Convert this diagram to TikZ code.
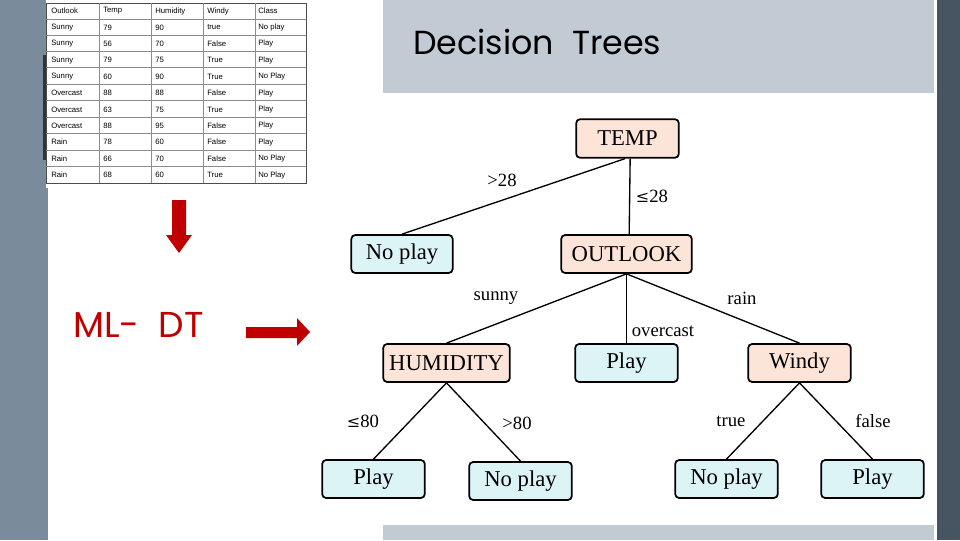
\documentclass[tikz,border=0pt]{standalone}
\usepackage{fontspec}
\setmainfont{Liberation Serif}
\newfontfamily\ttl{Poppins}
\newfontfamily\tbl{Liberation Sans}
\newfontfamily\sym{DejaVu Serif}
\definecolor{slate}{HTML}{7A8B9B}
\definecolor{darkstrip}{HTML}{475462}
\definecolor{panel}{HTML}{C2CAD3}
\definecolor{peach}{HTML}{FCE5D8}
\definecolor{cyanb}{HTML}{DDF4F7}
\definecolor{dred}{HTML}{C00000}
\begin{document}
\begin{tikzpicture}[x=0.75pt,y=-0.75pt,
  tn/.style={draw=black,line width=1.3pt,rounded corners=3pt,inner sep=0pt,font=\fontsize{17}{17}\selectfont},
  dec/.style={tn,fill=peach},
  leaf/.style={tn,fill=cyanb},
  lbl/.style={font=\fontsize{14}{14}\selectfont,inner sep=0pt},
  edge/.style={line width=1pt},
  cell/.style={font=\tbl\fontsize{5.8}{6}\selectfont,anchor=west,inner sep=0pt}]
\useasboundingbox (0,0) rectangle (960,540);
\fill[white] (0,0) rectangle (960,540);
\fill[slate] (0,0) rectangle (48,540);
\fill[darkstrip] (937,0) rectangle (960,540);
\fill[panel] (383,0) rectangle (934,93);
\fill[panel] (383,525) rectangle (934,540);
\node[font=\ttl\fontsize{25}{25}\selectfont,anchor=west,inner sep=0pt] (title) at (413,42) {Decision\ \ Trees};
% table
\fill[black!80] (43,55) rectangle (46,160);
\fill[white] (46,0) rectangle (310,188);
\draw[black!70,line width=0.7pt] (46,3) rectangle (306,183);
\foreach \y in {19,35,51,67,84,100,117,133,150,166}{\draw[black!45,line width=0.4pt] (46,\y) -- (306,\y);}
\foreach \x in {99,151,203,255}{\draw[black!45,line width=0.4pt] (\x,3) -- (\x,183);}
\foreach \r/\a/\b/\c/\d [count=\i from 0] in {Outlook/Temp/Humidity/Windy/Class,Sunny/79/90/true/No play,Sunny/56/70/False/Play,Sunny/79/75/True/Play,Sunny/60/90/True/No Play,Overcast/88/88/False/Play,Overcast/63/75/True/Play,Overcast/88/95/False/Play,Rain/78/60/False/Play,Rain/66/70/False/No Play,Rain/68/60/True/No Play}{
  \pgfmathsetmacro\yy{11+16.4*\i}
  \node[cell] (t\i a) at (51,\yy) {\r};
  \node[cell] (t\i b) at (103,\yy) {\a};
  \node[cell] (t\i c) at (155,\yy) {\b};
  \node[cell] (t\i d) at (207,\yy) {\c};
  \node[cell] (t\i e) at (258,\yy) {\d};
}
% arrows
\fill[dred] (172,200) -- (186,200) -- (186,235) -- (192,235) -- (179,253) -- (166,235) -- (172,235) -- cycle;
\fill[dred] (246,327) -- (297,327) -- (297,318) -- (310,332) -- (297,346) -- (297,338) -- (246,338) -- cycle;
\node[font=\ttl\fontsize{27}{27}\selectfont,text=dred,anchor=west,inner sep=0pt] (ml) at (73,325) {ML-\ \ DT};
% tree
\node[dec,minimum width=77pt,minimum height=29pt] (temp) at (627.5,138.5) {TEMP};
\node[leaf,minimum width=76pt,minimum height=28.5pt] (np1) at (402,254) {No play};
\node[dec,minimum width=98pt,minimum height=28.5pt] (out) at (626.5,254) {OUTLOOK};
\node[dec,minimum width=95pt,minimum height=28.5pt] (hum) at (446.5,363) {HUMIDITY};
\node[leaf,minimum width=77pt,minimum height=28.5pt] (pl1) at (626.5,363) {Play};
\node[dec,minimum width=77pt,minimum height=28.5pt] (win) at (799.5,363) {Windy};
\node[leaf,minimum width=77pt,minimum height=28.5pt] (pl2) at (373.5,479) {Play};
\node[leaf,minimum width=77pt,minimum height=28.5pt] (np2) at (520.5,481) {No play};
\node[leaf,minimum width=77pt,minimum height=28.5pt] (np3) at (726.5,479) {No play};
\node[leaf,minimum width=77pt,minimum height=28.5pt] (pl3) at (872.5,479) {Play};
\draw[edge] ([xshift=-2pt]temp.south) -- (np1.north);
\draw[edge] ([xshift=2pt]temp.south) -- ([xshift=2pt]out.north);
\draw[edge] (out.south) -- (hum.north);
\draw[edge] (out.south) -- (pl1.north);
\draw[edge] (out.south) -- (win.north);
\draw[edge] (hum.south) -- (pl2.north);
\draw[edge] (hum.south) -- (np2.north);
\draw[edge] (win.south) -- (np3.north);
\draw[edge] (win.south) -- (pl3.north);
\node[lbl] (l1) at (502,180) {>28};
\node[lbl] (l2) at (652,196) {{\sym\fontsize{12}{12}\selectfont ≤}28};
\node[lbl] (l3) at (496,298) {sunny};
\node[lbl] (l4) at (663,331) {overcast};
\node[lbl] (l5) at (742,298) {rain};
\node[lbl] (l6) at (363,421) {{\sym\fontsize{12}{12}\selectfont ≤}80};
\node[lbl] (l7) at (517,423) {>80};
\node[lbl] (l8) at (731,421) {true};
\node[lbl] (l9) at (873,421) {false};
\end{tikzpicture}
\end{document}
